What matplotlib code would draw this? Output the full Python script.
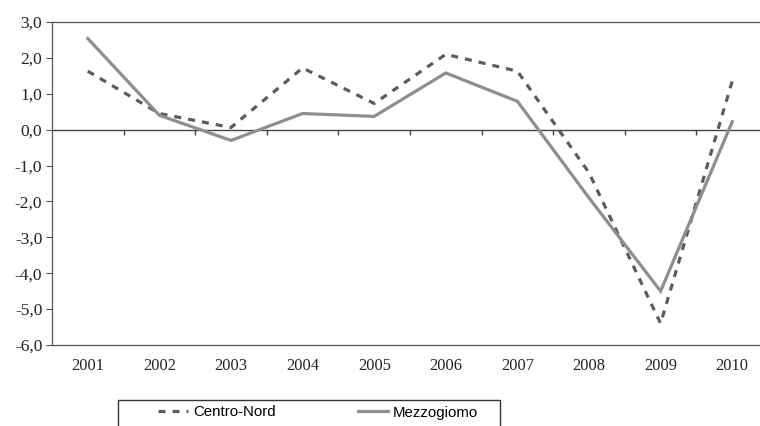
import matplotlib
matplotlib.use("Agg")
import matplotlib.pyplot as plt
from matplotlib.patches import Rectangle

years = ["2001", "2002", "2003", "2004", "2005", "2006", "2007", "2008", "2009", "2010"]
centro_nord = [1.63, 0.45, 0.06, 1.72, 0.73, 2.1, 1.63, -1.2, -5.4, 1.35]
mezzogiorno = [2.54, 0.4, -0.3, 0.45, 0.37, 1.58, 0.79, -1.9, -4.5, 0.22]
yticks = [3, 2, 1, 0, -1, -2, -3, -4, -5, -6]

W, H = 760, 426
fig = plt.figure(figsize=(7.6, 4.26), dpi=100)
fig.patch.set_facecolor("white")

# plot area runs past the right edge of the picture, as in the scan
ax = fig.add_axes([52 / W, (H - 345) / H, 716 / W, 323 / H])
x = list(range(len(years)))

ax.plot(x, centro_nord, color="#5c5c5c", lw=2.3, linestyle=(0, (2.2, 2.2)),
        dash_capstyle="butt", label="Centro-Nord", zorder=3)
ax.plot(x, mezzogiorno, color="#8e8e8e", lw=2.3, solid_joinstyle="miter",
        label="Mezzogiomo", zorder=3)

ax.set_xlim(-0.5, len(years) - 0.5)
ax.set_ylim(-6, 3)

# zero line with tick marks between categories
ax.axhline(0, color="#444444", lw=1.0, zorder=2)
ax.vlines([i + 0.5 for i in x[:-1]], -0.15, 0, color="#444444", lw=1.0, zorder=2)

ax.set_xticks(x)
ax.set_xticklabels(years, family="Liberation Serif", fontsize=11.8, color="#222222")
ax.tick_params(axis="x", length=0, pad=9)

ax.set_yticks(yticks)
ax.set_yticklabels([f"{v:.1f}".replace(".", ",") for v in yticks],
                   family="Liberation Serif", fontsize=12.5, color="#222222")
ax.tick_params(axis="y", length=4, width=0.8, color="#555555", pad=3)

for s in ["top", "bottom", "left"]:
    ax.spines[s].set_color("#555555")
    ax.spines[s].set_linewidth(0.9)
ax.spines["right"].set_visible(False)

# legend box (cut off at the bottom like the reference)
fig.patches.append(Rectangle((118 / W, -0.1), 382 / W, (H - 400) / H + 0.1,
                             transform=fig.transFigure, fill=False,
                             ec="#333333", lw=1.0))
leg = fig.legend(loc="upper left", bbox_to_anchor=(144 / W, 1 - 392 / H),
                 ncol=2, frameon=False, handlelength=2.0, handletextpad=0.35,
                 columnspacing=5.5, prop={"family": "Liberation Sans", "size": 10.8})

fig.savefig("out.png", dpi=100)
